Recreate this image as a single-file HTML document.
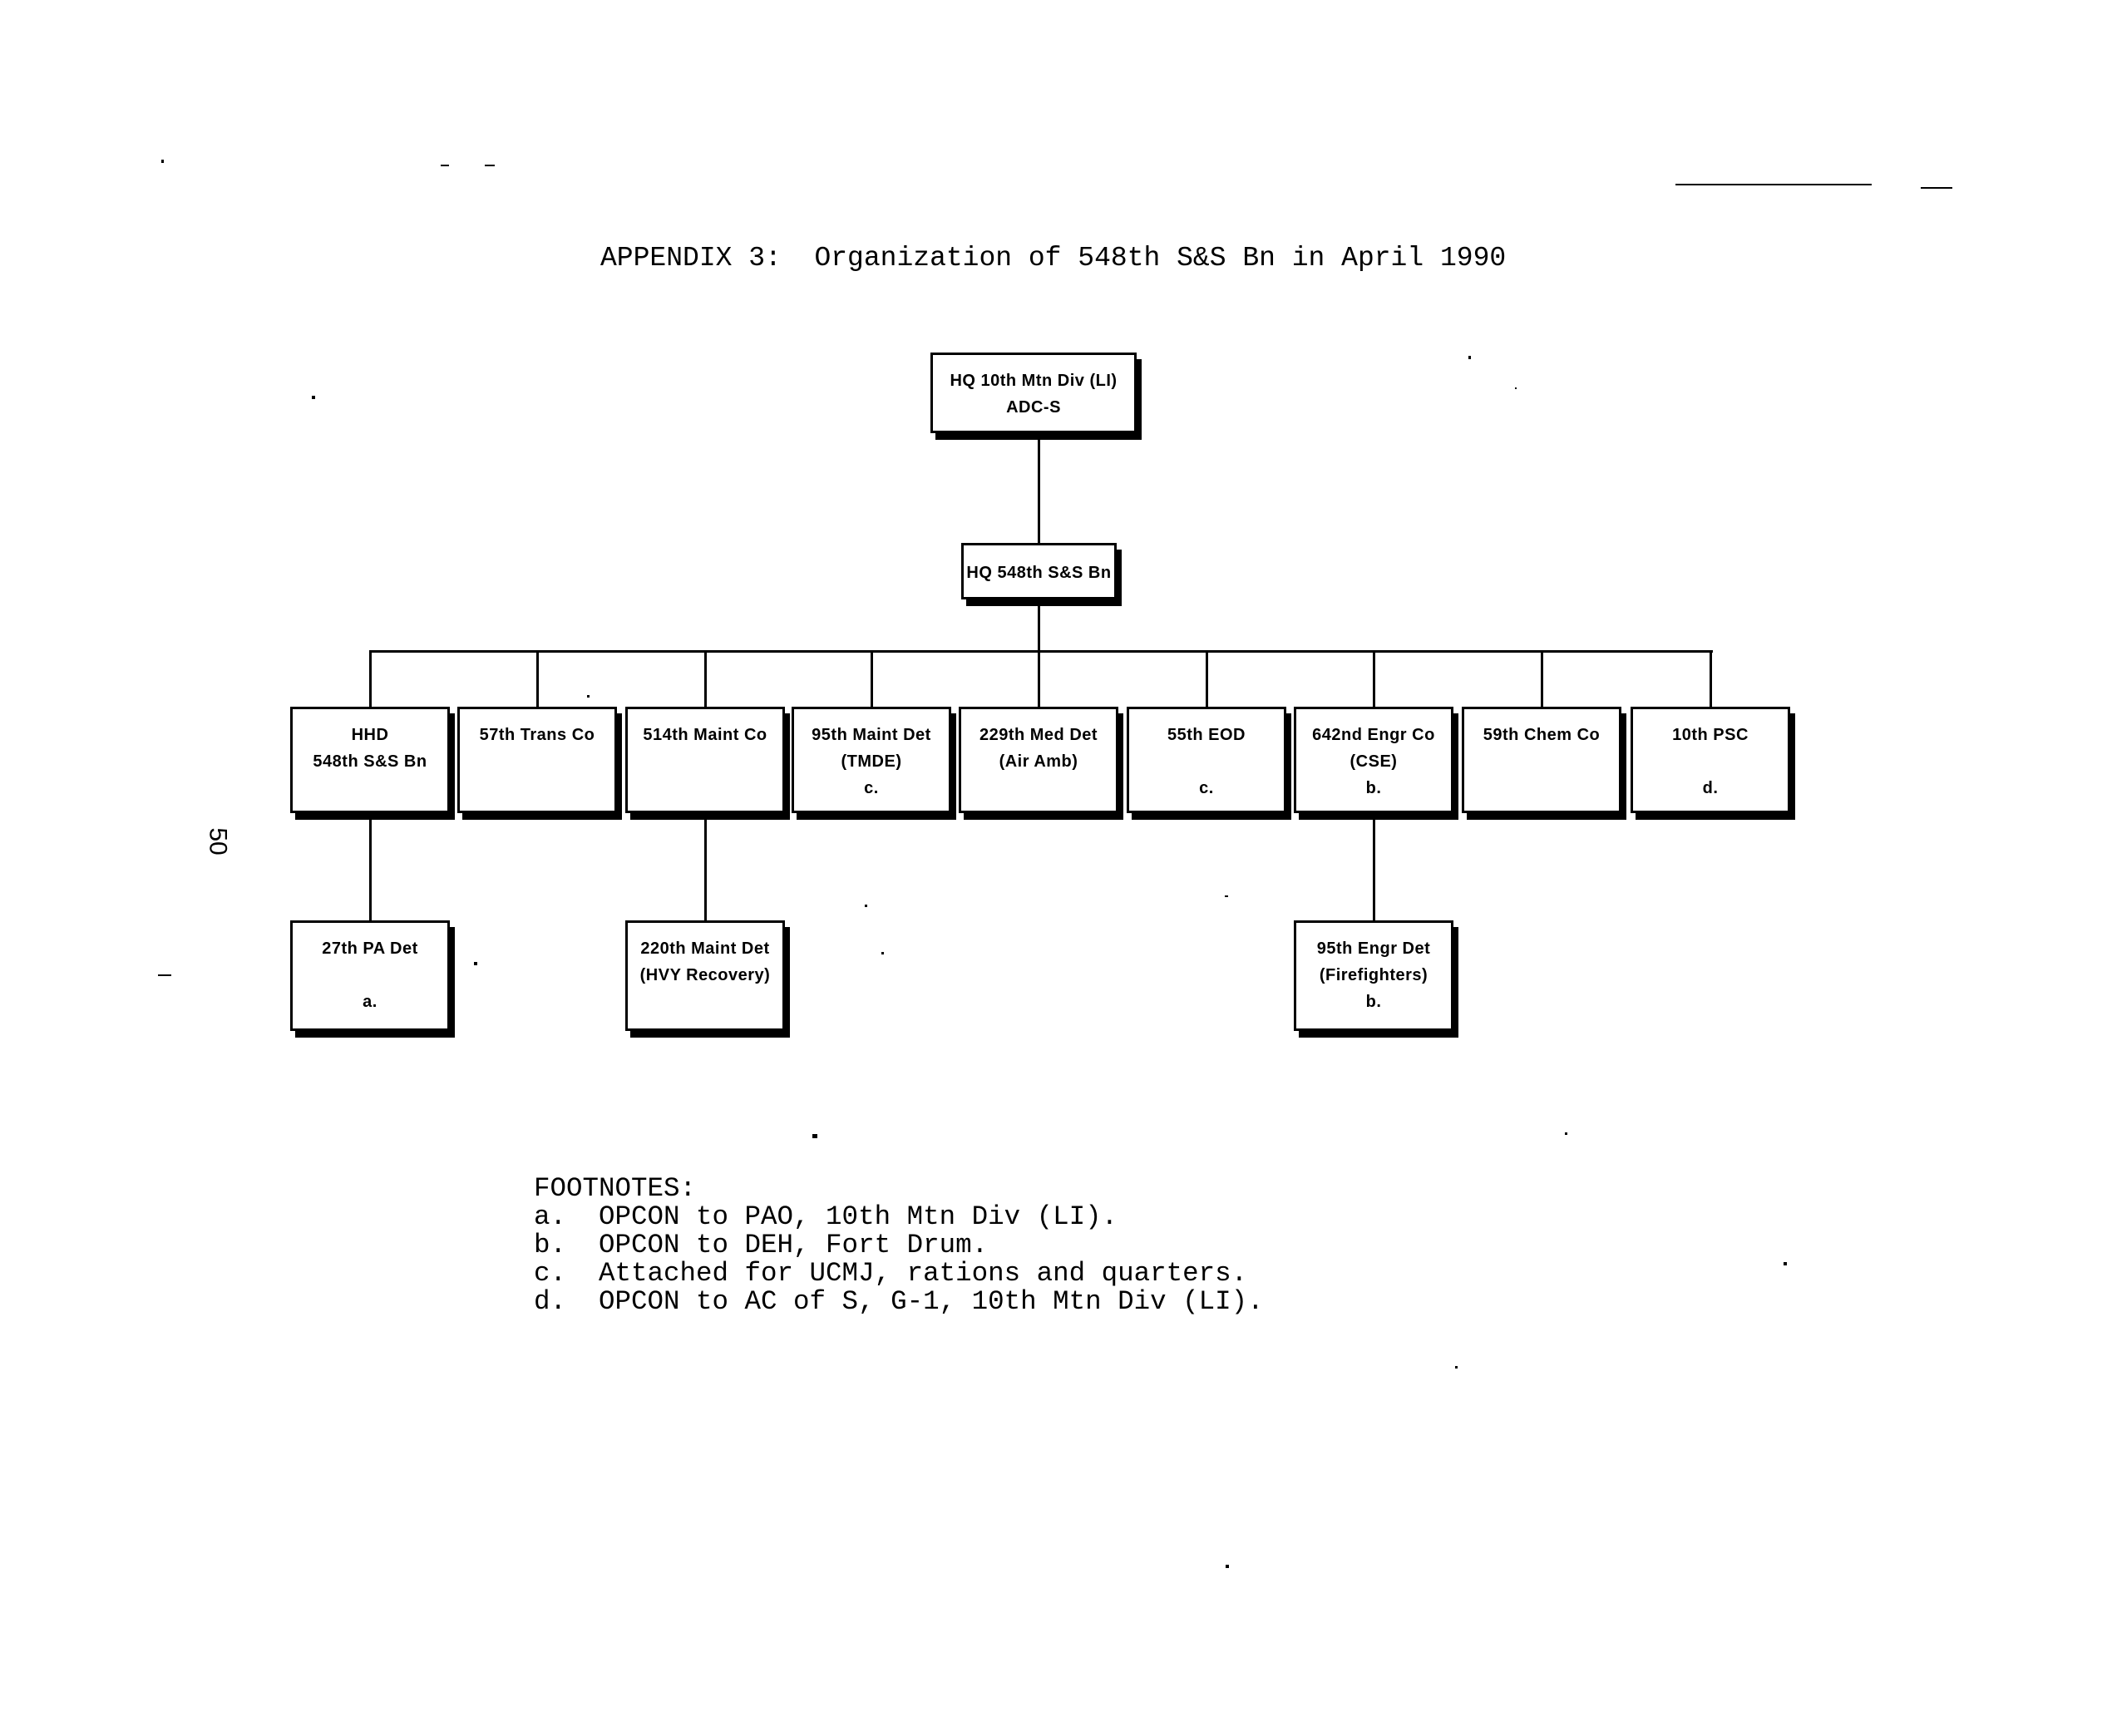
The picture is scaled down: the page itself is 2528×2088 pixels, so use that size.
<!DOCTYPE html>
<html><head><meta charset="utf-8"><style>
body{margin:0;width:2528px;height:2088px;background:#fff;position:relative;overflow:hidden;font-family:"Liberation Sans",sans-serif;}
.b{position:absolute;box-sizing:border-box;border:3px solid #000;background:#fff;box-shadow:6px 8px 0 #000;text-align:center;font-size:20px;font-weight:bold;line-height:32px;padding-top:15px;white-space:nowrap;letter-spacing:0.5px;}
.h{position:absolute;background:#000;height:3px;}
.v{position:absolute;background:#000;width:3px;}
.m{position:absolute;font-family:"Liberation Mono",monospace;font-size:33px;white-space:pre;line-height:34px;}
.d{position:absolute;background:#000;}
</style></head><body>
<div class="m" style="left:722px;top:294px;">APPENDIX 3:  Organization of 548th S&amp;S Bn in April 1990</div>

<div class="b" style="left:1119px;top:424px;width:248px;height:97px;">HQ 10th Mtn Div (LI)<br>ADC-S</div>
<div class="b" style="left:1156px;top:653px;width:187px;height:68px;padding-top:17px;">HQ 548th S&amp;S Bn</div>

<div class="v" style="left:1248px;top:521px;height:132px;"></div>
<div class="v" style="left:1248px;top:721px;height:63px;"></div>
<div class="h" style="left:444px;top:782px;width:1616px;"></div>

<div class="v" style="left:444px;top:782px;height:68px;"></div>
<div class="v" style="left:645px;top:782px;height:68px;"></div>
<div class="v" style="left:847px;top:782px;height:68px;"></div>
<div class="v" style="left:1047px;top:782px;height:68px;"></div>
<div class="v" style="left:1248px;top:782px;height:68px;"></div>
<div class="v" style="left:1450px;top:782px;height:68px;"></div>
<div class="v" style="left:1651px;top:782px;height:68px;"></div>
<div class="v" style="left:1853px;top:782px;height:68px;"></div>
<div class="v" style="left:2056px;top:782px;height:68px;"></div>

<div class="b" style="left:349px;top:850px;width:192px;height:128px;">HHD<br>548th S&amp;S Bn</div>
<div class="b" style="left:550px;top:850px;width:192px;height:128px;">57th Trans Co</div>
<div class="b" style="left:752px;top:850px;width:192px;height:128px;">514th Maint Co</div>
<div class="b" style="left:952px;top:850px;width:192px;height:128px;">95th Maint Det<br>(TMDE)<br>c.</div>
<div class="b" style="left:1153px;top:850px;width:192px;height:128px;">229th Med Det<br>(Air Amb)</div>
<div class="b" style="left:1355px;top:850px;width:192px;height:128px;">55th EOD<br>&nbsp;<br>c.</div>
<div class="b" style="left:1556px;top:850px;width:192px;height:128px;">642nd Engr Co<br>(CSE)<br>b.</div>
<div class="b" style="left:1758px;top:850px;width:192px;height:128px;">59th Chem Co</div>
<div class="b" style="left:1961px;top:850px;width:192px;height:128px;">10th PSC<br>&nbsp;<br>d.</div>

<div class="v" style="left:444px;top:986px;height:122px;"></div>
<div class="v" style="left:847px;top:986px;height:122px;"></div>
<div class="v" style="left:1651px;top:986px;height:122px;"></div>

<div class="b" style="left:349px;top:1107px;width:192px;height:133px;">27th PA Det<br>&nbsp;<br>a.</div>
<div class="b" style="left:752px;top:1107px;width:192px;height:133px;">220th Maint Det<br>(HVY Recovery)</div>
<div class="b" style="left:1556px;top:1107px;width:192px;height:133px;">95th Engr Det<br>(Firefighters)<br>b.</div>

<div class="m" style="left:642px;top:1413px;font-size:32.5px;">FOOTNOTES:
a.  OPCON to PAO, 10th Mtn Div (LI).
b.  OPCON to DEH, Fort Drum.
c.  Attached for UCMJ, rations and quarters.
d.  OPCON to AC of S, G-1, 10th Mtn Div (LI).</div>

<div style="position:absolute;left:245px;top:995px;font-family:'Liberation Sans',sans-serif;font-size:30px;transform:rotate(90deg);">50</div>

<div class="d" style="left:194px;top:192px;width:3px;height:4px;"></div>
<div class="d" style="left:530px;top:198px;width:10px;height:2px;"></div>
<div class="d" style="left:583px;top:198px;width:12px;height:2px;"></div>
<div class="d" style="left:2015px;top:221px;width:236px;height:2px;"></div>
<div class="d" style="left:2310px;top:225px;width:38px;height:2px;"></div>
<div class="d" style="left:375px;top:476px;width:4px;height:4px;"></div>
<div class="d" style="left:1766px;top:428px;width:3px;height:4px;"></div>
<div class="d" style="left:1822px;top:466px;width:2px;height:2px;"></div>
<div class="d" style="left:706px;top:836px;width:3px;height:3px;"></div>
<div class="d" style="left:190px;top:1172px;width:16px;height:2px;"></div>
<div class="d" style="left:570px;top:1157px;width:4px;height:4px;"></div>
<div class="d" style="left:1040px;top:1088px;width:3px;height:3px;"></div>
<div class="d" style="left:1060px;top:1145px;width:3px;height:3px;"></div>
<div class="d" style="left:1473px;top:1077px;width:4px;height:2px;"></div>
<div class="d" style="left:977px;top:1364px;width:6px;height:5px;"></div>
<div class="d" style="left:1882px;top:1362px;width:3px;height:3px;"></div>
<div class="d" style="left:2145px;top:1518px;width:4px;height:4px;"></div>
<div class="d" style="left:1750px;top:1643px;width:3px;height:3px;"></div>
<div class="d" style="left:1474px;top:1882px;width:4px;height:4px;"></div>
</body></html>
